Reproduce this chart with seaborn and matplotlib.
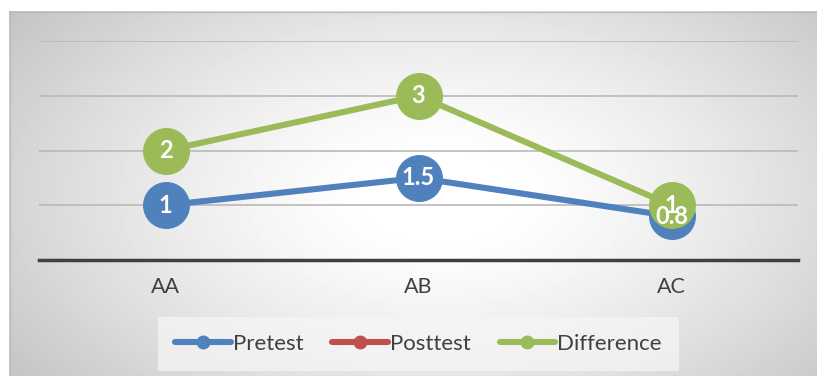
import numpy as np
import pandas as pd
import matplotlib
matplotlib.use("Agg")
import matplotlib.pyplot as plt
from matplotlib.lines import Line2D
import seaborn as sns

categories = ["AA", "AB", "AC"]
pretest = [1, 1.5, 0.8]
posttest = [np.nan, np.nan, np.nan]
difference = [2, 3, 1]
series_names = ["Pretest", "Posttest", "Difference"]
colors = {"Pretest": "#4F81BD", "Posttest": "#C0504D", "Difference": "#9BBB59"}

sns.set_theme(style="white")
plt.rcParams['font.family'] = ['Lato', 'DejaVu Sans']

rows = []
for name, vals in zip(series_names, [pretest, posttest, difference]):
    for c, v in zip(categories, vals):
        rows.append({"cat": c, "value": v, "series": name})
df = pd.DataFrame(rows)
df["x"] = df["cat"].map({c: i for i, c in enumerate(categories)})

W, H = 817, 376
fig = plt.figure(figsize=(W / 100, H / 100), dpi=100)
fig.patch.set_facecolor("white")

# background radial gradient (chart area)
bg = fig.add_axes([9 / W, 0, 1 - 9 / W, (H - 11) / H])
bg.set_axis_off()
yy, xx = np.mgrid[0:365, 0:808]
cx, cy = 430, 185
r = np.sqrt(((xx - cx) / 420) ** 2 + ((yy - cy) / 240) ** 2)
val = 1.0 - 0.2 * np.clip((r - 0.15) / 1.0, 0, None) ** 1.3
val = np.clip(val, 0.72, 1.0)
bg.imshow(val, cmap="gray", vmin=0, vmax=1, aspect="auto", extent=[0, 1, 0, 1], interpolation="bilinear")
bg.plot([0, 1], [0.998, 0.998], color="#bdbdbd", lw=1, transform=bg.transAxes)
bg.plot([0.0007, 0.0007], [0, 1], color="#bdbdbd", lw=1, transform=bg.transAxes)

ax = fig.add_axes([39 / W, (H - 260) / H, (798 - 39) / W, (260 - 41) / H])
ax.patch.set_alpha(0)

for name in ["Pretest", "Posttest", "Difference"]:
    sub = df[df["series"] == name].dropna()
    if len(sub) == 0:
        continue
    sns.lineplot(data=sub, x="x", y="value", ax=ax, color=colors[name], lw=4.4,
                 marker="o", markersize=33, markeredgecolor=colors[name],
                 markeredgewidth=0.8, legend=False, zorder=3)

for name, vals in zip(series_names, [pretest, posttest, difference]):
    for i, v in enumerate(vals):
        if np.isnan(v):
            continue
        ax.text(i, v, f"{v:g}", ha="center", va="center", color="white",
                fontsize=17, fontweight="bold", zorder=10)

ax.set_xlim(-0.5, 2.5)
ax.set_ylim(0, 4)
ax.set_yticks([1, 2, 3, 4])
ax.set_yticklabels([])
ax.yaxis.grid(True, color="#b9b9b9", lw=1.2)
ax.set_axisbelow(True)
ax.set_xticks(range(len(categories)))
ax.set_xticklabels(categories, fontsize=15.5, color="#404040")
ax.tick_params(axis="x", length=0, pad=12)
ax.tick_params(axis="y", length=0)
ax.set_xlabel("")
ax.set_ylabel("")
for s in ["top", "right", "left"]:
    ax.spines[s].set_visible(False)
ax.spines["bottom"].set_color("#404040")
ax.spines["bottom"].set_linewidth(2.5)
ax.spines["bottom"].set_zorder(2)

handles = [Line2D([0], [0], color=colors[n], lw=4.4, marker="o", markersize=9,
                  solid_capstyle="round") for n in series_names]
leg = fig.legend(handles, series_names, loc="center", bbox_to_anchor=(418.5 / W, (H - 344) / H),
                 ncol=3, frameon=True, fontsize=16, handlelength=2.5, handletextpad=0.1,
                 columnspacing=1.3, labelcolor="#404040", borderpad=0.75)
leg.get_frame().set_facecolor("#f6f6f6")
leg.get_frame().set_alpha(0.7)
leg.get_frame().set_edgecolor("none")
leg.get_frame().set_boxstyle("square", pad=0)

fig.savefig("out.png", dpi=100)
